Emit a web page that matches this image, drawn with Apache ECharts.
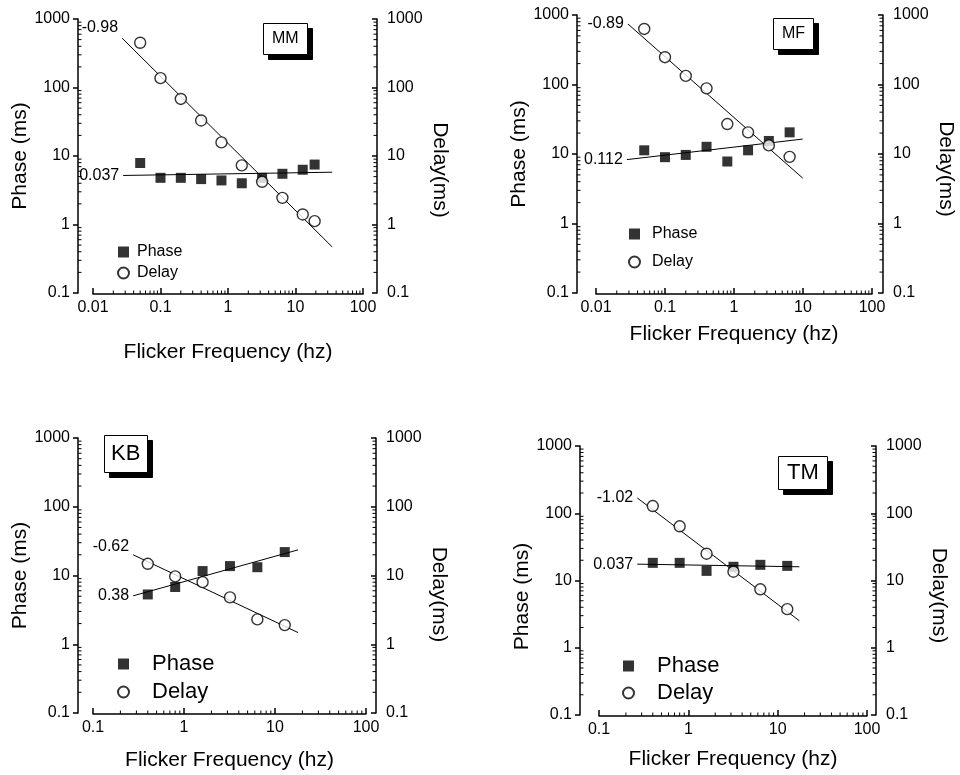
<!DOCTYPE html>
<html>
<head>
<meta charset="utf-8">
<script src="https://cdn.jsdelivr.net/npm/echarts@6/dist/echarts.min.js"></script>
<style>
  html, body { margin: 0; padding: 0; background: #fff; }
  #chart { width: 960px; height: 775px; }
</style>
</head>
<body>
<div id="chart"></div>
<script>
// data (freq in hz, values in ms)
const freqMM = [0.05, 0.1, 0.2, 0.4, 0.8, 1.6, 3.2, 6.4, 12.8, 19.2]
const phaseMM = [7.9, 4.8, 4.8, 4.6, 4.4, 4.0, 4.8, 5.5, 6.3, 7.5]
const delayMM = [450, 137, 68, 33, 15.8, 7.3, 4.2, 2.45, 1.4, 1.12]
const fitDelayMM = [[0.027, 525], [35, 0.47]]
const fitPhaseMM = [[0.028, 5.2], [35, 5.8]]

const freqMF = [0.05, 0.1, 0.2, 0.4, 0.8, 1.6, 3.2, 6.4]
const phaseMF = [11.3, 9.0, 9.7, 12.7, 7.8, 11.3, 15.4, 20.5]
const delayMF = [630, 247, 133, 88, 27, 20.5, 13.3, 9.1]
const fitDelayMF = [[0.029, 743], [9.9, 4.5]]
const fitPhaseMF = [[0.028, 8.3], [9.9, 16.4]]

const freqKB = [0.4, 0.8, 1.6, 3.2, 6.4, 12.8]
const phaseKB = [5.3, 6.8, 11.6, 13.7, 13.2, 21.9]
const delayKB = [14.8, 9.7, 8.0, 4.8, 2.3, 1.9]
const fitDelayKB = [[0.276, 20], [17.9, 1.48]]
const fitPhaseKB = [[0.276, 5.06], [17.9, 23.6]]

const freqTM = [0.4, 0.8, 1.6, 3.2, 6.4, 12.8]
const phaseTM = [18.3, 18.3, 13.9, 16.0, 17.1, 16.5]
const delayTM = [128, 64, 25, 13.5, 7.4, 3.75]
const fitDelayTM = [[0.268, 169], [17.5, 2.52]]
const fitPhaseTM = [[0.268, 17.5], [17.5, 16.0]]

const subjects = ['MM', 'MF', 'KB', 'TM']
const slopeLabels = [['-0.98', '0.037'], ['-0.89', '0.112'], ['-0.62', '0.38'], ['-1.02', '0.037']]
const xMins = [0.01, 0.01, 0.1, 0.1]
const xMax = 100
const yMin = 0.1
const yMax = 1000

const FONT = 'Liberation Sans, Arial, Helvetica, sans-serif'

// layout of each panel (pixels)
const panels = [
  { freq: freqMM, phase: phaseMM, delay: delayMM, fitD: fitDelayMM, fitP: fitPhaseMM,
    grid: { left: 93, top: 19, width: 270, height: 274 }, lOff: 15, rOff: 14, xOff: 1, xGap: 48,
    lPad: [0, 0, 0, 0], rPad: [0, 0, 0, 28], dLabOff: [0, -11], pLabOff: [0, 0],
    box: { left: 263, top: 23, size: 16, pad: [8, 9] },
    legend: { left: 112, top: 239, icon: 11, gap: 5, size: 16, tpad: 3 } },
  { freq: freqMF, phase: phaseMF, delay: delayMF, fitD: fitDelayMF, fitP: fitPhaseMF,
    grid: { left: 596, top: 15, width: 276, height: 278 }, lOff: 19, rOff: 11, xOff: 1, xGap: 30,
    lPad: [0, 0, 0, 0], rPad: [0, 0, 0, 30], dLabOff: [0, 0], pLabOff: [0, 0],
    box: { left: 773, top: 18, size: 16, pad: [8, 9] },
    legend: { left: 623, top: 221, icon: 11, gap: 12, size: 16, tpad: 7 } },
  { freq: freqKB, phase: phaseKB, delay: delayKB, fitD: fitDelayKB, fitP: fitPhaseKB,
    grid: { left: 93, top: 438, width: 273, height: 275 }, lOff: 15, rOff: 10, xOff: 1, xGap: 36,
    lPad: [0, 0, 0, 0], rPad: [0, 0, 0, 38], dLabOff: [0, -8], pLabOff: [0, 0],
    box: { left: 104, top: 435, size: 22, pad: [8, 7] },
    legend: { left: 112, top: 648, icon: 11, gap: 6, size: 22, tpad: 18 } },
  { freq: freqTM, phase: phaseTM, delay: delayTM, fitD: fitDelayTM, fitP: fitPhaseTM,
    grid: { left: 599, top: 446, width: 268, height: 269 }, lOff: 19, rOff: 9, xOff: 1, xGap: 33,
    lPad: [0, 32, 0, 0], rPad: [0, 0, 0, 30], dLabOff: [0, 0], pLabOff: [0, 0],
    box: { left: 778, top: 456, size: 22, pad: [6, 9] },
    legend: { left: 617, top: 650, icon: 11, gap: 5, size: 22, tpad: 18 } }
]

const black = '#000'
const axisLine = { lineStyle: { color: black, width: 1.5 } }
const plainNum = v => String(+v.toPrecision(6))

// 2..9 x 10^k between two decades (log-axis minor ticks)
function minorValues(lo, hi) {
  const out = []
  for (let e = Math.round(Math.log10(lo)); e < Math.round(Math.log10(hi)); e++) {
    for (let m = 2; m <= 9; m++) out.push(+(m * Math.pow(10, e)).toPrecision(3))
  }
  return out
}

function fitSeries(name, fit, text, offset, i) {
  return {
    name: name + ' fit',
    type: 'line',
    xAxisIndex: i,
    yAxisIndex: 2 * i,
    symbol: 'circle',
    symbolSize: 0,
    silent: true,
    lineStyle: { color: black, width: 1 },
    itemStyle: { color: black },
    data: [
      { value: fit[0], label: { show: true, formatter: text, position: 'left', distance: 4, offset: offset,
          color: black, fontSize: 16, fontFamily: FONT } },
      { value: fit[1] }
    ],
    z: 2
  }
}

// minor ticks drawn through the axes' own scale
function minorTickSeries(p, i) {
  const data = []
  minorValues(xMins[i], xMax).forEach(v => data.push([v, yMin, 0]))
  minorValues(yMin, yMax).forEach(v => data.push([xMins[i], v, 1]))
  minorValues(yMin, yMax).forEach(v => data.push([xMax, v, 2]))
  return {
    type: 'custom',
    xAxisIndex: i,
    yAxisIndex: 2 * i,
    silent: true,
    clip: false,
    data: data,
    renderItem: (params, api) => {
      const kind = api.value(2)
      const pt = api.coord([api.value(0), api.value(1)])
      let shape
      if (kind === 0) {
        shape = { x1: pt[0], y1: pt[1] + p.xOff, x2: pt[0], y2: pt[1] + p.xOff - 3.5 }
      } else if (kind === 1) {
        shape = { x1: pt[0] - p.lOff, y1: pt[1], x2: pt[0] - p.lOff + 3.5, y2: pt[1] }
      } else {
        shape = { x1: pt[0] + p.rOff, y1: pt[1], x2: pt[0] + p.rOff - 3.5, y2: pt[1] }
      }
      return { type: 'line', shape: shape, style: { stroke: black, lineWidth: 1 } }
    },
    z: 1
  }
}

const option = {
  animation: false,
  backgroundColor: '#fff',
  textStyle: { fontFamily: FONT, color: black },
  grid: [],
  xAxis: [],
  yAxis: [],
  title: [],
  legend: [],
  series: []
}

// subject tag: black copy offset behind a white framed box
function tagTitle(p, i, shadow) {
  const d = shadow ? 5 : 0
  return {
    text: subjects[i],
    left: p.box.left + d, top: p.box.top + d,
    padding: p.box.pad,
    z: shadow ? 5 : 6,
    backgroundColor: shadow ? black : '#fff',
    borderColor: black, borderWidth: 1,
    textStyle: { color: black, fontSize: p.box.size, fontWeight: 'normal', fontFamily: FONT, lineHeight: p.box.size }
  }
}

panels.forEach((p, i) => {
  option.grid.push(Object.assign({ containLabel: false }, p.grid))

  option.xAxis.push({
    type: 'log', gridIndex: i, min: xMins[i], max: xMax, offset: p.xOff,
    axisLine: axisLine,
    axisTick: { inside: true, length: 6, lineStyle: { color: black, width: 1.5 } },
    splitLine: { show: false },
    axisLabel: { color: black, fontSize: 16, margin: 6, fontFamily: FONT, formatter: plainNum },
    name: 'Flicker Frequency (hz)', nameLocation: 'middle', nameGap: p.xGap,
    nameTextStyle: { color: black, fontSize: 21, fontFamily: FONT }
  })

  option.yAxis.push({
    type: 'log', gridIndex: i, min: yMin, max: yMax, position: 'left', offset: p.lOff,
    axisLine: axisLine,
    axisTick: { inside: false, length: 5, lineStyle: { color: black, width: 1.5 } },
    splitLine: { show: false },
    axisLabel: { color: black, fontSize: 16, margin: 8, fontFamily: FONT, formatter: plainNum },
    name: 'Phase (ms)', nameLocation: 'middle', nameGap: 45, nameRotate: 90,
    nameTextStyle: { color: black, fontSize: 21, fontFamily: FONT, padding: p.lPad }
  })
  option.yAxis.push({
    type: 'log', gridIndex: i, min: yMin, max: yMax, position: 'right', offset: p.rOff,
    axisLine: axisLine,
    axisTick: { inside: true, length: 5, lineStyle: { color: black, width: 1.5 } },
    splitLine: { show: false },
    axisLabel: { color: black, fontSize: 16, margin: 10, fontFamily: FONT, formatter: plainNum },
    name: 'Delay(ms)', nameLocation: 'middle', nameGap: 52, nameRotate: -90,
    nameTextStyle: { color: black, fontSize: 21, fontFamily: FONT, padding: p.rPad }
  })

  option.title.push(tagTitle(p, i, true))
  option.title.push(tagTitle(p, i, false))

  option.legend.push({
    left: p.legend.left, top: p.legend.top, orient: 'vertical',
    selectedMode: false,
    itemWidth: p.legend.icon, itemHeight: p.legend.icon, itemGap: p.legend.gap,
    data: [{ name: 'Phase', icon: 'rect' }, { name: 'Delay', icon: 'circle' }],
    textStyle: { color: black, fontSize: p.legend.size, lineHeight: p.legend.size, fontFamily: FONT,
      padding: [0, 0, 0, p.legend.tpad] }
  })

  option.series.push(minorTickSeries(p, i))
  option.series.push(fitSeries('Delay', p.fitD, slopeLabels[i][0], p.dLabOff, i))
  option.series.push(fitSeries('Phase', p.fitP, slopeLabels[i][1], p.pLabOff, i))

  option.series.push({
    name: 'Phase', type: 'scatter', xAxisIndex: i, yAxisIndex: 2 * i,
    symbol: 'rect', symbolSize: 10,
    itemStyle: { color: black },
    data: p.freq.map((f, k) => [f, p.phase[k]]),
    z: 3
  })
  option.series.push({
    name: 'Delay', type: 'scatter', xAxisIndex: i, yAxisIndex: 2 * i,
    symbol: 'circle', symbolSize: 11,
    itemStyle: { color: '#fff', borderColor: black, borderWidth: 1.4 },
    data: p.freq.map((f, k) => [f, p.delay[k]]),
    z: 4
  })
})

const chart = echarts.init(document.getElementById('chart'))
chart.setOption(option)
</script>
</body>
</html>
